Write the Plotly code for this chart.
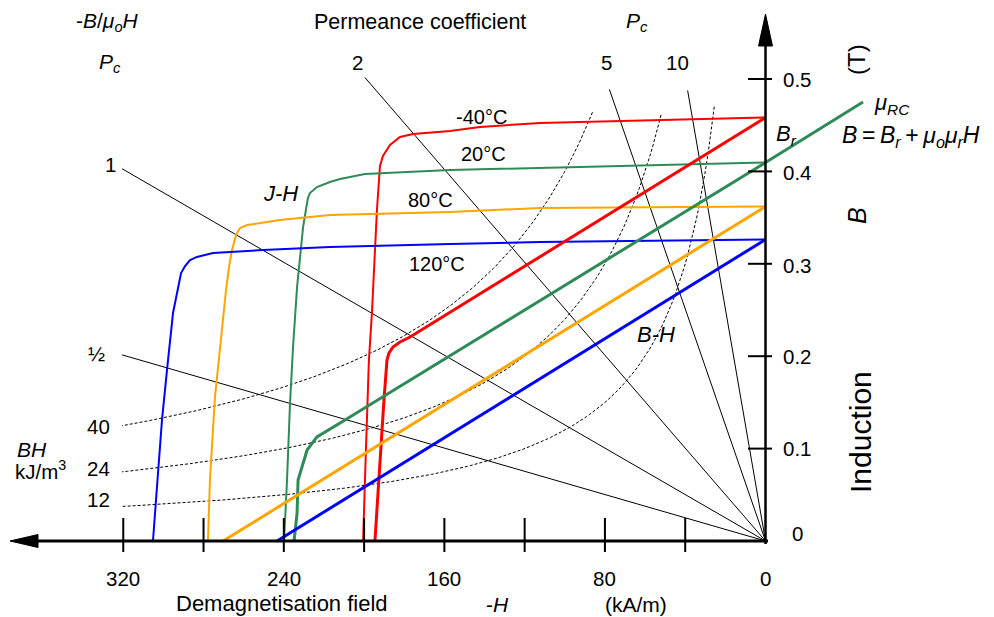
import numpy as np
import plotly.graph_objects as go

# ---------------------------------------------------------------------------
# Demagnetisation curves of a magnet (second quadrant), -H in kA/m, B/J in T
# ---------------------------------------------------------------------------
MU0 = 4e-7 * np.pi * 1e3  # tesla per (kA/m)

temperatures = ["-40°C", "20°C", "80°C", "120°C"]
colors = ["#ff0000", "#2e8b57", "#ffa500", "#0000ff"]

# Intrinsic (J-H) curves
jh_H_m40 = [0, 82.5, 112.4, 142.3, 157.2, 175.6, 182.1, 187.1, 190.6, 192.1, 193.6, 196.1, 197.6, 199.1, 200.5]
jh_J_m40 = [0.4583, 0.4545, 0.4524, 0.4481, 0.4437, 0.4405, 0.4372, 0.4286, 0.4167, 0.4058, 0.3582, 0.2468, 0.1959, 0.0985, 0.0]

jh_H_20 = [0, 112.4, 157.2, 199.6, 212.0, 217.0, 223.5, 227.0, 228.0, 230.4, 231.9, 233.4, 235.4, 236.9, 238.4, 239.9]
jh_J_20 = [0.4096, 0.4037, 0.4015, 0.3972, 0.3918, 0.3885, 0.3831, 0.3766, 0.3712, 0.3398, 0.3041, 0.2749, 0.2100, 0.1494, 0.0660, 0.0]

jh_H_80 = [0, 112.4, 157.2, 217.0, 241.9, 258.3, 261.8, 263.8, 265.8, 267.3, 268.8, 271.8, 274.3, 276.8, 277.8]
jh_J_80 = [0.3620, 0.3604, 0.3561, 0.3528, 0.3474, 0.3420, 0.3387, 0.3312, 0.3149, 0.2965, 0.2716, 0.2100, 0.1558, 0.0660, 0.0]

jh_H_120 = [0, 112.4, 157.2, 217.0, 250.4, 275.3, 283.3, 286.7, 289.2, 291.2, 292.7, 295.2, 298.2, 300.7, 303.2, 305.2]
jh_J_120 = [0.3263, 0.3236, 0.3214, 0.3182, 0.3149, 0.3117, 0.3074, 0.3041, 0.2976, 0.2900, 0.2738, 0.2468, 0.1851, 0.1310, 0.0584, 0.0]

# Normal (B-H) curves; the 20°C recoil line is extended into +H (mu_RC)
bh_H_m40 = [0, 177.1, 182.1, 185.6, 187.6, 188.6, 190.1, 192.1, 194.6]
bh_B_m40 = [0.4583, 0.2208, 0.2154, 0.2100, 0.2035, 0.1959, 0.1526, 0.0877, 0.0]

bh_H_20 = [-48.6, 0, 209.5, 217.0, 223.5, 228.4, 230.9, 232.9, 233.4, 234.9]
bh_B_20 = [0.4751, 0.4096, 0.1310, 0.1212, 0.1126, 0.0985, 0.0801, 0.0660, 0.0303, 0.0]

bh_H_80 = [0, 270.3]
bh_B_80 = [0.3620, 0.0]

bh_H_120 = [0, 243.4]
bh_B_120 = [0.3263, 0.0]

# Permeance coefficient load lines  B = Pc * mu0 * H
pc_values = [0.5, 1, 2, 5, 10]
pc_labels = ["½", "1", "2", "5", "10"]
pc_end_H = [320.6, 320.6, 199.6, 77.8, 38.8]

# Energy product hyperbolas  B*H = const (kJ/m^3)
bh_products = [40, 24, 12]
bh_top_B = [0.464, 0.461, 0.470]
bh_left_H = 320.6

# Axis ticks
x_ticks = [40, 80, 120, 160, 200, 240, 280, 320]
x_tick_labels = {0: "0", 80: "80", 160: "160", 240: "240", 320: "320"}
y_ticks = [0.1, 0.2, 0.3, 0.4, 0.5]
y_tick_labels = ["0", "0.1", "0.2", "0.3", "0.4", "0.5"]

# ---------------------------------------------------------------------------
# Canvas geometry (pixel frame of the drawing)
# ---------------------------------------------------------------------------
W, HGT = 994, 617
X0_PX, X_SCALE = 765.5, 2.007   # pixel column of H = 0, pixels per kA/m
Y0_PX, Y_SCALE = 541.0, 924.0   # pixel row of B = 0, pixels per tesla


def hx(px):
    return (X0_PX - px) / X_SCALE


def by(py):
    return (Y0_PX - py) / Y_SCALE


FONT = "Liberation Sans, Arial, sans-serif"

fig = go.Figure()


def line(xs, ys, color, width, dash="solid"):
    fig.add_trace(go.Scatter(x=xs, y=ys, mode="lines",
                             line=dict(color=color, width=width, dash=dash),
                             hoverinfo="skip", showlegend=False))


# load lines
for pc, h_end in zip(pc_values, pc_end_H):
    line([0, h_end], [0, pc * MU0 * h_end], "black", 1)

# energy-product hyperbolas
for bh, b_top in zip(bh_products, bh_top_B):
    hh = np.linspace(bh / b_top, bh_left_H, 200)
    line(hh, bh / hh, "black", 1, dash="3px,2px")

# J-H curves
jh_curves = [(jh_H_m40, jh_J_m40), (jh_H_20, jh_J_20), (jh_H_80, jh_J_80), (jh_H_120, jh_J_120)]
for (hs, js), c in zip(jh_curves, colors):
    line(hs, js, c, 2)

# B-H curves
bh_curves = [(bh_H_m40, bh_B_m40), (bh_H_20, bh_B_20), (bh_H_80, bh_B_80), (bh_H_120, bh_B_120)]
for (hs, bs), c in zip(bh_curves, colors):
    line(hs, bs, c, 3)

# ---------------------------------------------------------------------------
# Hand-drawn axes with arrows and crossing ticks
# ---------------------------------------------------------------------------
shapes = []
shapes.append(dict(type="line", xref="x", yref="y", x0=hx(30), x1=hx(768), y0=0, y1=0,
                   line=dict(color="black", width=3)))
shapes.append(dict(type="line", xref="x", yref="y", x0=0, x1=0, y0=by(544), y1=by(40),
                   line=dict(color="black", width=2.5)))
for t in x_ticks:
    shapes.append(dict(type="line", xref="x", yref="y", x0=t, x1=t, y0=by(518), y1=by(552),
                       line=dict(color="black", width=2)))
for t in y_ticks:
    shapes.append(dict(type="line", xref="x", yref="y", x0=hx(748), x1=hx(772), y0=t, y1=t,
                       line=dict(color="black", width=2)))


def tri(pts):
    p = " L ".join(f"{x / W:.5f},{1 - y / HGT:.5f}" for x, y in pts)
    return dict(type="path", xref="paper", yref="paper", path=f"M {p} Z",
                fillcolor="black", line=dict(color="black", width=1))


shapes.append(tri([(765.5, 14), (758.5, 46), (772.5, 46)]))
shapes.append(tri([(10, 541), (38, 534.5), (38, 547.5)]))


def label(text, px, py, size=20, angle=0, xanchor="center", yanchor="middle"):
    fig.add_annotation(x=px / W, y=1 - py / HGT, xref="paper", yref="paper",
                       text=text, showarrow=False, textangle=angle,
                       xanchor=xanchor, yanchor=yanchor, borderpad=0,
                       font=dict(family=FONT, size=size, color="black"))


# tick labels
for v, s in x_tick_labels.items():
    label(s, X0_PX - v * X_SCALE, 578, size=20.5)
for s, py in zip(y_tick_labels, [533, 448, 356, 265, 172, 79]):
    label(s, 797, py, size=20.5)

# axis titles (bottom row anchored to the lower edge)
label("Demagnetisation field", 282, 617, size=22, yanchor="bottom")
label("-<i>H</i>", 497, 617, size=21, yanchor="bottom")
label("(kA/m)", 636, 617, size=21, yanchor="bottom")
label("Induction", 860, 432, size=30, angle=-90)
label("<i>B</i>", 857, 216, size=25, angle=-90)
label("(T)", 857, 60, size=24, angle=-90)

# permeance annotations
label("-<i>B</i>/<i>μ<sub>o</sub>H</i>", 107, 22, size=21)
label("<i>P<sub>c</sub></i>", 110, 63, size=21)
label("Permeance coefficient", 420, 22, size=21.5)
label("<i>P<sub>c</sub></i>", 637, 22, size=21)
for s, (px, py) in zip(pc_labels, [(96, 353), (110, 165), (357, 62), (606, 62), (677, 62)]):
    label(s, px, py, size=20.5)

# energy product annotations
for s, py in zip(["40", "24", "12"], [426, 469, 499]):
    label(s, 98, py, size=20.5)
label("<i>BH</i>", 16, 449, size=21, xanchor="left")
label("kJ/m<sup>3</sup>", 14, 470, size=20.5, xanchor="left")

# curve annotations
for s, (px, py) in zip(temperatures, [(481, 117), (483, 154), (430, 200), (437, 264)]):
    label(s, px, py, size=20)
label("<i>J-H</i>", 280, 193, size=22)
label("<i>B-H</i>", 656, 334, size=22)
label("<i>B<sub>r</sub></i>", 786, 135, size=22)
label("<i>μ<sub>RC</sub></i>", 892, 104, size=22)
label("<i>B</i>\u2009=\u2009<i>B<sub>r</sub></i>\u2009+\u2009<i>μ<sub>o</sub>μ<sub>r</sub>H</i>",
      911, 136, size=23)

fig.update_layout(
    width=W, height=HGT,
    margin=dict(l=0, r=0, t=0, b=0),
    paper_bgcolor="white", plot_bgcolor="white",
    showlegend=False,
    shapes=shapes,
    xaxis=dict(range=[hx(0), hx(W)], visible=False, fixedrange=True),
    yaxis=dict(range=[by(HGT), by(0)], visible=False, fixedrange=True),
)

fig.write_html("out.html", config={"displayModeBar": False})
